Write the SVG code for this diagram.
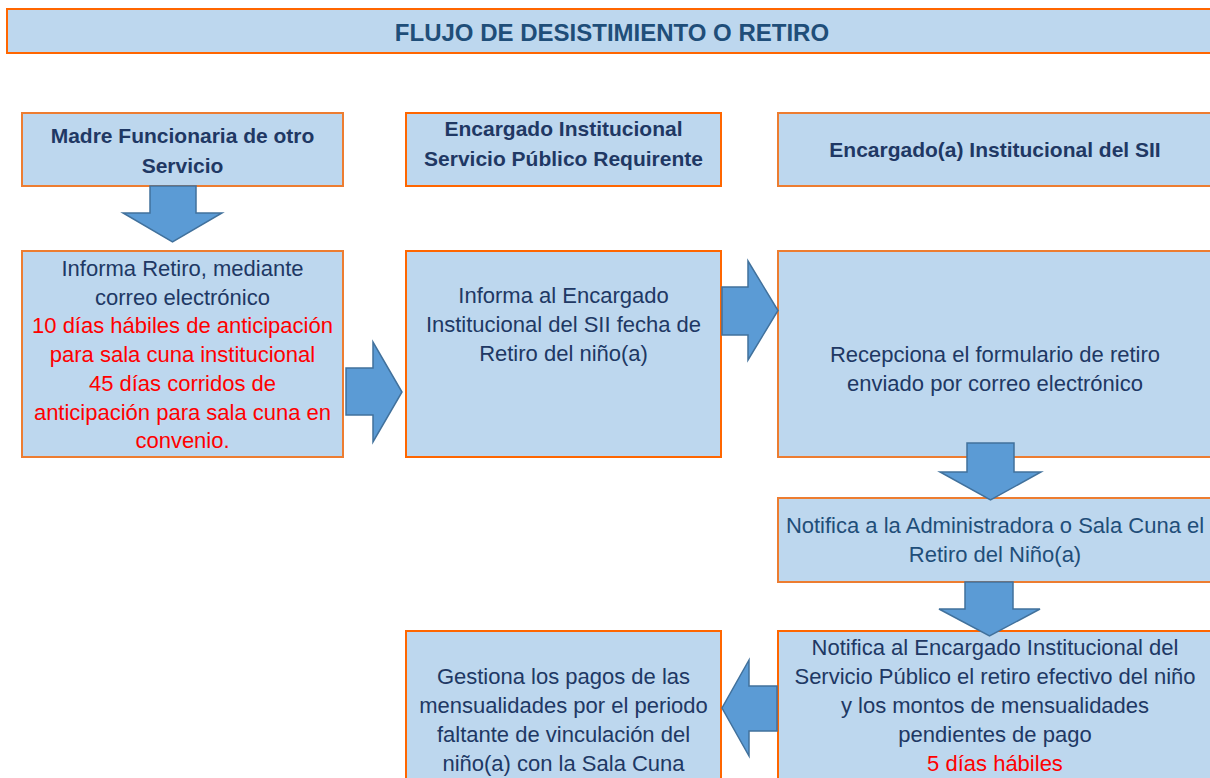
<svg xmlns="http://www.w3.org/2000/svg" width="1210" height="778" viewBox="0 0 1210 778">
<style>
.box{fill:#BDD7EE;stroke-width:2}
.o1{stroke:#FF6600}
.o2{stroke:#ED7D31}
.arr{fill:#5B9BD5;stroke:#41719C;stroke-width:1.5;stroke-linejoin:miter}
text{font-family:"Liberation Sans",Arial,sans-serif;text-anchor:middle}
.t{font-size:22px;fill:#203864}
.tb{font-size:21px;font-weight:bold;fill:#1F3864}
.r{fill:#FF0000}
.title{font-size:24px;font-weight:bold;fill:#1F4E79}
</style>
<rect width="1210" height="778" fill="#FFFFFF"/>
<g id="title">
<rect class="box o1" x="7" y="9" width="1210" height="44"/>
<text class="title" x="612" y="41">FLUJO DE DESISTIMIENTO O RETIRO</text>
</g>
<g id="madre">
<rect class="box o2" x="22" y="113" width="321" height="73"/>
<text class="tb" x="182.5" y="143">Madre Funcionaria de otro</text>
<text class="tb" x="182.5" y="173">Servicio</text>
</g>
<g id="encargado-req">
<rect class="box o1" x="406" y="113" width="315" height="73"/>
<text class="tb" x="563.5" y="136">Encargado Institucional</text>
<text class="tb" x="563.5" y="166">Servicio Público Requirente</text>
</g>
<g id="encargado-sii">
<rect class="box o2" x="778" y="113" width="440" height="73"/>
<text class="tb" x="995" y="157">Encargado(a) Institucional del SII</text>
</g>
<g id="informa-retiro">
<rect class="box o2" x="22" y="251" width="321" height="206"/>
<text class="t" x="182.5" y="276">Informa Retiro, mediante</text>
<text class="t" x="182.5" y="304.7">correo electrónico</text>
<text class="t r" x="182.5" y="333.4">10 días hábiles de anticipación</text>
<text class="t r" x="182.5" y="362.1">para sala cuna institucional</text>
<text class="t r" x="182.5" y="390.8">45 días corridos de</text>
<text class="t r" x="182.5" y="419.5">anticipación para sala cuna en</text>
<text class="t r" x="182.5" y="448.2">convenio.</text>
</g>
<g id="informa-encargado">
<rect class="box o1" x="406" y="251" width="315" height="206"/>
<text class="t" x="563.5" y="303">Informa al Encargado</text>
<text class="t" x="563.5" y="332">Institucional del SII fecha de</text>
<text class="t" x="563.5" y="361">Retiro del niño(a)</text>
</g>
<g id="recepciona">
<rect class="box o2" x="778" y="251" width="440" height="206"/>
<text class="t" x="995" y="362">Recepciona el formulario de retiro</text>
<text class="t" x="995" y="391">enviado por correo electrónico</text>
</g>
<g id="notifica-admin">
<rect class="box o2" x="778" y="498" width="440" height="84"/>
<text class="t" x="995" y="533" style="fill:#1F4E79">Notifica a la Administradora o Sala Cuna el</text>
<text class="t" x="995" y="562" style="fill:#1F4E79">Retiro del Niño(a)</text>
</g>
<g id="notifica-encargado">
<rect class="box o1" x="778" y="631" width="440" height="160"/>
<text class="t" x="995" y="655">Notifica al Encargado Institucional del</text>
<text class="t" x="995" y="684">Servicio Público el retiro efectivo del niño</text>
<text class="t" x="995" y="713">y los montos de mensualidades</text>
<text class="t" x="995" y="742">pendientes de pago</text>
<text class="t r" x="995" y="771">5 días hábiles</text>
</g>
<g id="gestiona">
<rect class="box o1" x="406" y="631" width="315" height="160"/>
<text class="t" x="563.5" y="684">Gestiona los pagos de las</text>
<text class="t" x="563.5" y="713">mensualidades por el periodo</text>
<text class="t" x="563.5" y="742">faltante de vinculación del</text>
<text class="t" x="563.5" y="771">niño(a) con la Sala Cuna</text>
</g>
<g id="connectors">
<polygon class="arr" points="150,186 196,186 196,213 222,213 172.5,242 123,213 150,213"/>
<polygon class="arr" points="346,368 373,368 373,342 402,392 373,442 373,415 346,415"/>
<polygon class="arr" points="722,287 748,287 748,261 778,310.5 748,360 748,335 722,335"/>
<polygon class="arr" points="967,443 1014,443 1014,472 1041,472 990.5,500 940,472 967,472"/>
<polygon class="arr" points="965,582 1013,582 1013,609 1040,609 989.5,636 939,609 965,609"/>
<polygon class="arr" points="777,686 749,686 749,660 722,708 749,756 749,731 777,731"/>
</g>
</svg>
